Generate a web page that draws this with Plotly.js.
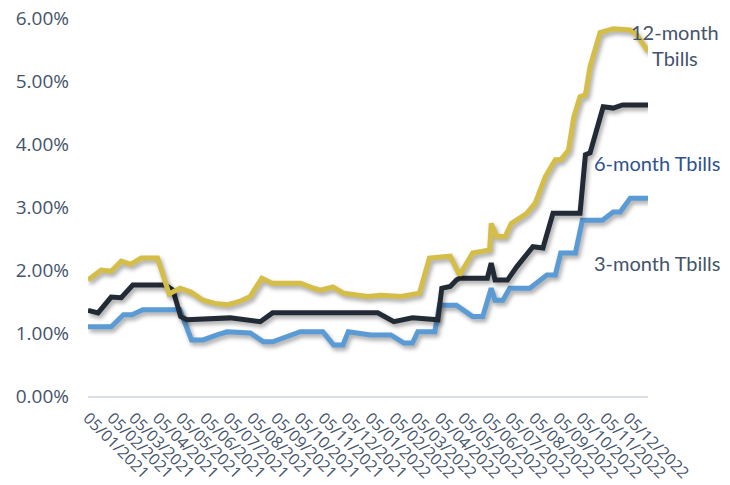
<!DOCTYPE html>
<html>
<head>
<meta charset="utf-8">
<script src="https://cdn.plot.ly/plotly-3.0.1.min.js"></script>
<style>
  html, body { margin: 0; padding: 0; background: #ffffff; }
  #chart { width: 730px; height: 485px; }
  .scatterlayer .js-line { filter: drop-shadow(2px 3px 2px rgba(0,0,0,0.35)); }
</style>
</head>
<body>
<div id="chart"></div>
<script>
// ---- Data (values in %) ----
const tickDates = ['2021-01-05','2021-02-05','2021-03-05','2021-04-05','2021-05-05','2021-06-05',
  '2021-07-05','2021-08-05','2021-09-05','2021-10-05','2021-11-05','2021-12-05',
  '2022-01-05','2022-02-05','2022-03-05','2022-04-05','2022-05-05','2022-06-05',
  '2022-07-05','2022-08-05','2022-09-05','2022-10-05','2022-11-05','2022-12-05'];
const tickLabels = ['05/01/2021','05/02/2021','05/03/2021','05/04/2021','05/05/2021','05/06/2021',
  '05/07/2021','05/08/2021','05/09/2021','05/10/2021','05/11/2021','05/12/2021',
  '05/01/2022','05/02/2022','05/03/2022','05/04/2022','05/05/2022','05/06/2022',
  '05/07/2022','05/08/2022','05/09/2022','05/10/2022','05/11/2022','05/12/2022'];

const dates12 = ['2021-01-05','2021-01-22','2021-02-04','2021-02-17','2021-03-01','2021-03-15','2021-04-05',
  '2021-04-20','2021-05-04','2021-05-18','2021-06-03','2021-06-18','2021-07-05','2021-07-20','2021-08-03',
  '2021-08-18','2021-08-31','2021-10-07','2021-10-24','2021-11-02','2021-11-18','2021-12-02','2022-01-02',
  '2022-01-19','2022-02-14','2022-02-23','2022-03-10','2022-03-23','2022-04-19','2022-05-01','2022-05-18',
  '2022-06-09','2022-06-11','2022-06-18','2022-06-29','2022-07-07','2022-07-27','2022-08-07','2022-08-20',
  '2022-09-02','2022-09-09','2022-09-19','2022-09-26','2022-10-04','2022-10-11','2022-10-17','2022-10-30',
  '2022-11-16','2022-12-08','2022-12-15','2022-12-31'];
const tbill12 = [1.84,2.00,1.98,2.14,2.09,2.19,2.19,
  1.62,1.71,1.65,1.52,1.47,1.45,1.50,1.58,
  1.87,1.79,1.79,1.71,1.68,1.73,1.63,1.58,
  1.60,1.58,1.60,1.63,2.19,2.22,1.92,2.27,
  2.32,2.74,2.53,2.53,2.74,2.90,3.06,3.48,
  3.75,3.75,3.90,4.43,4.75,4.78,5.23,5.77,
  5.83,5.81,5.76,5.47];

const dates6 = ['2021-01-05','2021-01-18','2021-02-04','2021-02-17','2021-03-04','2021-04-15','2021-04-25',
  '2021-05-05','2021-05-13','2021-07-08','2021-08-16','2021-09-01','2022-01-15','2022-02-05','2022-03-01',
  '2022-04-03','2022-04-08','2022-04-19','2022-04-27','2022-05-01','2022-06-06','2022-06-11','2022-06-16',
  '2022-07-02','2022-07-14','2022-08-04','2022-08-17','2022-08-30','2022-10-04','2022-10-11','2022-10-17',
  '2022-11-03','2022-11-16','2022-11-28','2022-12-31'];
const tbill6 = [1.36,1.32,1.57,1.56,1.76,1.76,1.68,
  1.26,1.21,1.24,1.18,1.32,1.32,1.18,1.24,
  1.21,1.71,1.74,1.84,1.87,1.87,2.11,1.84,
  1.84,2.05,2.37,2.35,2.90,2.90,3.83,3.86,
  4.59,4.57,4.62,4.62];

const dates3 = ['2021-01-05','2021-02-04','2021-02-20','2021-03-03','2021-03-17','2021-05-04','2021-05-19',
  '2021-06-03','2021-06-21','2021-07-04','2021-08-03','2021-08-20','2021-09-01','2021-09-15','2021-10-07',
  '2021-11-05','2021-11-19','2021-12-01','2021-12-08','2022-01-06','2022-02-01','2022-02-18','2022-03-01',
  '2022-03-08','2022-03-30','2022-04-05','2022-04-27','2022-05-18','2022-05-31','2022-06-11','2022-06-16',
  '2022-06-26','2022-07-05','2022-07-31','2022-08-22','2022-09-02','2022-09-09','2022-09-28','2022-10-07',
  '2022-11-02','2022-11-16','2022-11-25','2022-12-08','2022-12-31'];
const tbill3 = [1.10,1.10,1.29,1.29,1.37,1.37,0.89,
  0.89,0.97,1.02,1.00,0.86,0.86,0.92,1.02,
  1.02,0.81,0.81,1.02,0.97,0.97,0.84,0.84,
  1.02,1.02,1.44,1.44,1.26,1.26,1.71,1.52,
  1.52,1.71,1.71,1.92,1.92,2.27,2.27,2.79,
  2.79,2.92,2.92,3.14,3.14];

const seriesNames = ['3-month Tbills','6-month Tbills','12-month Tbills'];

// ---- Chart ----
const lineW = 5;
const traces = [
  {x: dates3, y: tbill3, name: seriesNames[0], mode: 'lines', type: 'scatter',
   line: {color: '#5B9BD5', width: lineW}},
  {x: dates6, y: tbill6, name: seriesNames[1], mode: 'lines', type: 'scatter',
   line: {color: '#222A35', width: lineW}},
  {x: dates12, y: tbill12, name: seriesNames[2], mode: 'lines', type: 'scatter',
   line: {color: '#D4BE48', width: lineW}}
];

const xTickFont = {family: 'Open Sans, sans-serif', size: 16, color: '#44546A'};
const yTickFont = {family: 'Open Sans, sans-serif', size: 19, color: '#44546A'};
const labelFont = {family: 'Lato, sans-serif', size: 20, color: '#44546A'};

const layout = {
  width: 730, height: 485,
  margin: {l: 88, r: 82, t: 18, b: 89},
  paper_bgcolor: '#ffffff', plot_bgcolor: '#ffffff',
  showlegend: false,
  hovermode: false,
  xaxis: {
    type: 'date',
    range: ['2021-01-05', '2022-12-31'],
    tickmode: 'array', tickvals: tickDates, ticktext: tickLabels,
    tickangle: 45, tickfont: xTickFont,
    showgrid: false, zeroline: false,
    showline: true, linecolor: '#D9DEE6', linewidth: 1.5,
    ticks: '', ticklabelstandoff: 5
  },
  yaxis: {
    range: [0, 6], dtick: 1, tick0: 0,
    tickformat: '.2f', ticksuffix: '%',
    tickfont: yTickFont,
    showgrid: false, zeroline: false, showline: false,
    ticks: '', ticklabelstandoff: 18
  },
  annotations: [
    {xref: 'paper', yref: 'paper', x: 1.048, y: 0.9286, xanchor: 'center', yanchor: 'middle',
     text: seriesNames[2].replace(' ', '<br>'), showarrow: false, align: 'center', font: labelFont},
    {xref: 'paper', yref: 'paper', x: 0.900, y: 0.616, xanchor: 'left', yanchor: 'middle',
     text: seriesNames[1], showarrow: false, font: Object.assign({}, labelFont, {color: '#2F5190'})},
    {xref: 'paper', yref: 'paper', x: 0.900, y: 0.352, xanchor: 'left', yanchor: 'middle',
     text: seriesNames[0], showarrow: false, font: labelFont}
  ]
};

Plotly.newPlot('chart', traces, layout, {displayModeBar: false, staticPlot: true});
</script>
</body>
</html>
